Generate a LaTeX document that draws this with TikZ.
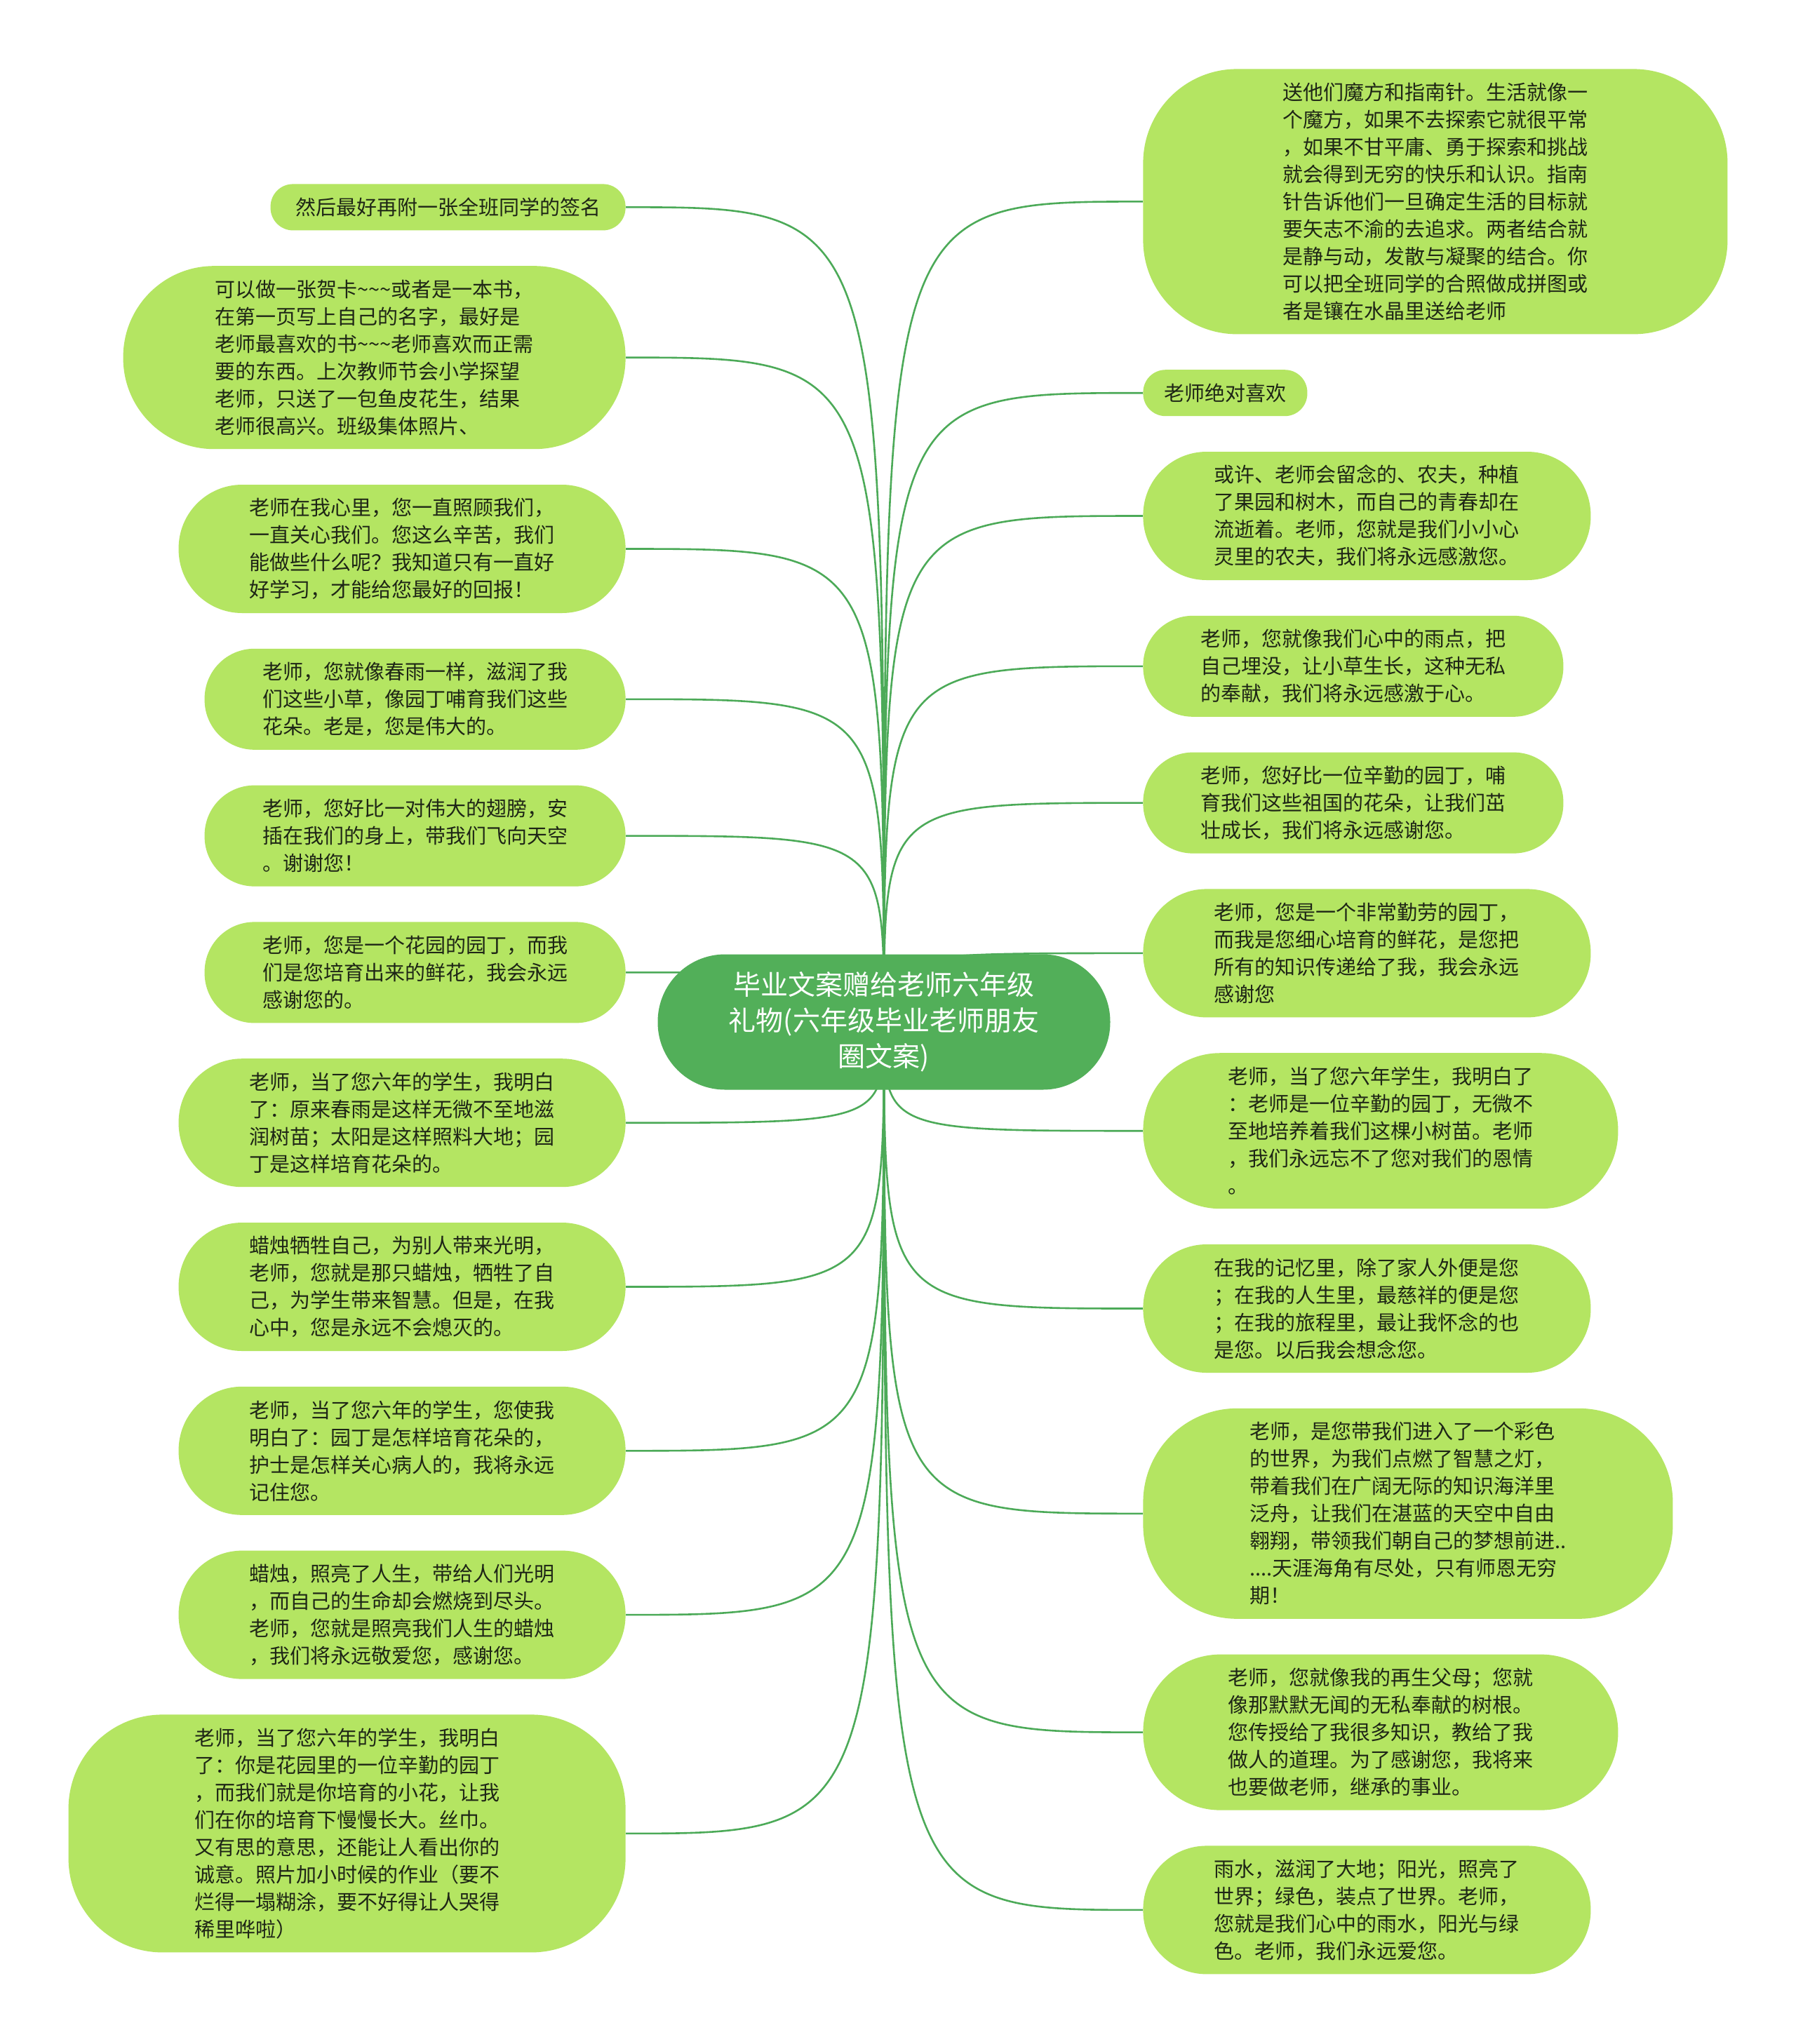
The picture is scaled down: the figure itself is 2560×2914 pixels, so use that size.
\documentclass[tikz,border=0pt]{standalone}
\usepackage{fontspec}
\newfontfamily\cjk{Noto Sans CJK SC}
\usepackage{xcolor}
\usepackage{tikz}
\usetikzlibrary{positioning, backgrounds}
\definecolor{leaf}{RGB}{180,229,98}
\definecolor{trunk}{RGB}{82,175,89}
\definecolor{twig}{RGB}{76,170,88}
\definecolor{ink}{RGB}{30,38,22}
\newcommand{\tildes}{\string~\string~\string~}

\begin{document}
\begin{tikzpicture}[
    x=0.5pt, y=-0.5pt,
    bubble/.style={rectangle, fill=leaf, text=ink, align=left, inner xsep=0pt, font=\cjk\fontsize{14.5pt}{19.5pt}\selectfont},
    nlines/.style={minimum height={19.5pt*#1+13.5pt}, rounded corners={min(9.75pt*#1+6.25pt,67pt)}},
    root/.style={rectangle, fill=trunk, text=white, align=center, rounded corners=48pt, minimum width=322.5pt, minimum height=96.5pt, font=\cjk\fontsize{19.5pt}{25.5pt}\selectfont},
    branch/.style={draw=twig, line width=1.3pt},
]
    \useasboundingbox (0,0) rectangle (2560,2914);

    \node[root] (root) at (1260,1457) {毕业文案赠给老师六年级\\礼物(六年级毕业老师朋友\\圈文案)};

    \node[bubble, nlines=1, minimum width=253pt, anchor=north east] (sign) at (892,262) {然后最好再附一张全班同学的签名};
    \node[bubble, nlines=6, minimum width=358pt, below left=25pt and 0pt of sign.south east] (card) {可以做一张贺卡\tildes 或者是一本书，\\
        在第一页写上自己的名字，最好是\\
        老师最喜欢的书\tildes 老师喜欢而正需\\
        要的东西。上次教师节会小学探望\\
        老师，只送了一包鱼皮花生，结果\\
        老师很高兴。班级集体照片、};
    \node[bubble, nlines=4, minimum width=318.5pt, below left=25pt and 0pt of card.south east] (heart) {老师在我心里，您一直照顾我们，\\
        一直关心我们。您这么辛苦，我们\\
        能做些什么呢？我知道只有一直好\\
        好学习，才能给您最好的回报！};
    \node[bubble, nlines=3, minimum width=300pt, below left=25pt and 0pt of heart.south east] (rain) {老师，您就像春雨一样，滋润了我\\
        们这些小草，像园丁哺育我们这些\\
        花朵。老是，您是伟大的。};
    \node[bubble, nlines=3, minimum width=300pt, below left=25pt and 0pt of rain.south east] (wings) {老师，您好比一对伟大的翅膀，安\\
        插在我们的身上，带我们飞向天空\\
        。谢谢您！};
    \node[bubble, nlines=3, minimum width=300pt, below left=25pt and 0pt of wings.south east] (garden) {老师，您是一个花园的园丁，而我\\
        们是您培育出来的鲜花，我会永远\\
        感谢您的。};
    \node[bubble, nlines=4, minimum width=318.5pt, below left=25pt and 0pt of garden.south east] (spring) {老师，当了您六年的学生，我明白\\
        了：原来春雨是这样无微不至地滋\\
        润树苗；太阳是这样照料大地；园\\
        丁是这样培育花朵的。};
    \node[bubble, nlines=4, minimum width=318.5pt, below left=25pt and 0pt of spring.south east] (candle) {蜡烛牺牲自己，为别人带来光明，\\
        老师，您就是那只蜡烛，牺牲了自\\
        己，为学生带来智慧。但是，在我\\
        心中，您是永远不会熄灭的。};
    \node[bubble, nlines=4, minimum width=318.5pt, below left=25pt and 0pt of candle.south east] (nurse) {老师，当了您六年的学生，您使我\\
        明白了：园丁是怎样培育花朵的，\\
        护士是怎样关心病人的，我将永远\\
        记住您。};
    \node[bubble, nlines=4, minimum width=318.5pt, below left=25pt and 0pt of nurse.south east] (light) {蜡烛，照亮了人生，带给人们光明\\
        ，而自己的生命却会燃烧到尽头。\\
        老师，您就是照亮我们人生的蜡烛\\
        ，我们将永远敬爱您，感谢您。};
    \node[bubble, nlines=8, minimum width=397pt, below left=25pt and 0pt of light.south east] (silk) {老师，当了您六年的学生，我明白\\
        了：你是花园里的一位辛勤的园丁\\
        ，而我们就是你培育的小花，让我\\
        们在你的培育下慢慢长大。丝巾。\\
        又有思的意思，还能让人看出你的\\
        诚意。照片加小时候的作业（要不\\
        烂得一塌糊涂，要不好得让人哭得\\
        稀里哗啦）};

    \node[bubble, nlines=9, minimum width=416.5pt, anchor=north west] (cube) at (1629,98) {送他们魔方和指南针。生活就像一\\
        个魔方，如果不去探索它就很平常\\
        ，如果不甘平庸、勇于探索和挑战\\
        就会得到无穷的快乐和认识。指南\\
        针告诉他们一旦确定生活的目标就\\
        要矢志不渝的去追求。两者结合就\\
        是静与动，发散与凝聚的结合。你\\
        可以把全班同学的合照做成拼图或\\
        者是镶在水晶里送给老师};
    \node[bubble, nlines=1, minimum width=117pt, below right=25pt and 0pt of cube.south west] (likes) {老师绝对喜欢};
    \node[bubble, nlines=4, minimum width=319pt, below right=25pt and 0pt of likes.south west] (farmer) {或许、老师会留念的、农夫，种植\\
        了果园和树木，而自己的青春却在\\
        流逝着。老师，您就是我们小小心\\
        灵里的农夫，我们将永远感激您。};
    \node[bubble, nlines=3, minimum width=299.5pt, below right=25pt and 0pt of farmer.south west] (drop) {老师，您就像我们心中的雨点，把\\
        自己埋没，让小草生长，这种无私\\
        的奉献，我们将永远感激于心。};
    \node[bubble, nlines=3, minimum width=299.5pt, below right=25pt and 0pt of drop.south west] (gardener) {老师，您好比一位辛勤的园丁，哺\\
        育我们这些祖国的花朵，让我们茁\\
        壮成长，我们将永远感谢您。};
    \node[bubble, nlines=4, minimum width=319pt, below right=25pt and 0pt of gardener.south west] (bloom) {老师，您是一个非常勤劳的园丁，\\
        而我是您细心培育的鲜花，是您把\\
        所有的知识传递给了我，我会永远\\
        感谢您};
    \node[bubble, nlines=5, minimum width=338.5pt, below right=25pt and 0pt of bloom.south west] (sapling) {老师，当了您六年学生，我明白了\\
        ：老师是一位辛勤的园丁，无微不\\
        至地培养着我们这棵小树苗。老师\\
        ，我们永远忘不了您对我们的恩情\\
        。};
    \node[bubble, nlines=4, minimum width=319pt, below right=25pt and 0pt of sapling.south west] (memory) {在我的记忆里，除了家人外便是您\\
        ；在我的人生里，最慈祥的便是您\\
        ；在我的旅程里，最让我怀念的也\\
        是您。以后我会想念您。};
    \node[bubble, nlines=7, minimum width=377.5pt, below right=25pt and 0pt of memory.south west] (world) {老师，是您带我们进入了一个彩色\\
        的世界，为我们点燃了智慧之灯，\\
        带着我们在广阔无际的知识海洋里\\
        泛舟，让我们在湛蓝的天空中自由\\
        翱翔，带领我们朝自己的梦想前进..\\
        ....天涯海角有尽处，只有师恩无穷\\
        期！};
    \node[bubble, nlines=5, minimum width=338.5pt, below right=25pt and 0pt of world.south west] (parents) {老师，您就像我的再生父母；您就\\
        像那默默无闻的无私奉献的树根。\\
        您传授给了我很多知识，教给了我\\
        做人的道理。为了感谢您，我将来\\
        也要做老师，继承的事业。};
    \node[bubble, nlines=4, minimum width=319pt, below right=25pt and 0pt of parents.south west] (green) {雨水，滋润了大地；阳光，照亮了\\
        世界；绿色，装点了世界。老师，\\
        您就是我们心中的雨水，阳光与绿\\
        色。老师，我们永远爱您。};

    \begin{scope}[on background layer]
        \fill[white] (0,0) rectangle (2560,2914);
        \draw[branch] (root.center) .. controls (root.center |- sign.east) .. (sign.east);
        \draw[branch] (root.center) .. controls (root.center |- card.east) .. (card.east);
        \draw[branch] (root.center) .. controls (root.center |- heart.east) .. (heart.east);
        \draw[branch] (root.center) .. controls (root.center |- rain.east) .. (rain.east);
        \draw[branch] (root.center) .. controls (root.center |- wings.east) .. (wings.east);
        \draw[branch] (root.center) .. controls (root.center |- garden.east) .. (garden.east);
        \draw[branch] (root.center) .. controls (root.center |- spring.east) .. (spring.east);
        \draw[branch] (root.center) .. controls (root.center |- candle.east) .. (candle.east);
        \draw[branch] (root.center) .. controls (root.center |- nurse.east) .. (nurse.east);
        \draw[branch] (root.center) .. controls (root.center |- light.east) .. (light.east);
        \draw[branch] (root.center) .. controls (root.center |- silk.east) .. (silk.east);
        \draw[branch] (root.center) .. controls (root.center |- cube.west) .. (cube.west);
        \draw[branch] (root.center) .. controls (root.center |- likes.west) .. (likes.west);
        \draw[branch] (root.center) .. controls (root.center |- farmer.west) .. (farmer.west);
        \draw[branch] (root.center) .. controls (root.center |- drop.west) .. (drop.west);
        \draw[branch] (root.center) .. controls (root.center |- gardener.west) .. (gardener.west);
        \draw[branch] (root.center) .. controls (root.center |- bloom.west) .. (bloom.west);
        \draw[branch] (root.center) .. controls (root.center |- sapling.west) .. (sapling.west);
        \draw[branch] (root.center) .. controls (root.center |- memory.west) .. (memory.west);
        \draw[branch] (root.center) .. controls (root.center |- world.west) .. (world.west);
        \draw[branch] (root.center) .. controls (root.center |- parents.west) .. (parents.west);
        \draw[branch] (root.center) .. controls (root.center |- green.west) .. (green.west);
    \end{scope}
\end{tikzpicture}
\end{document}
